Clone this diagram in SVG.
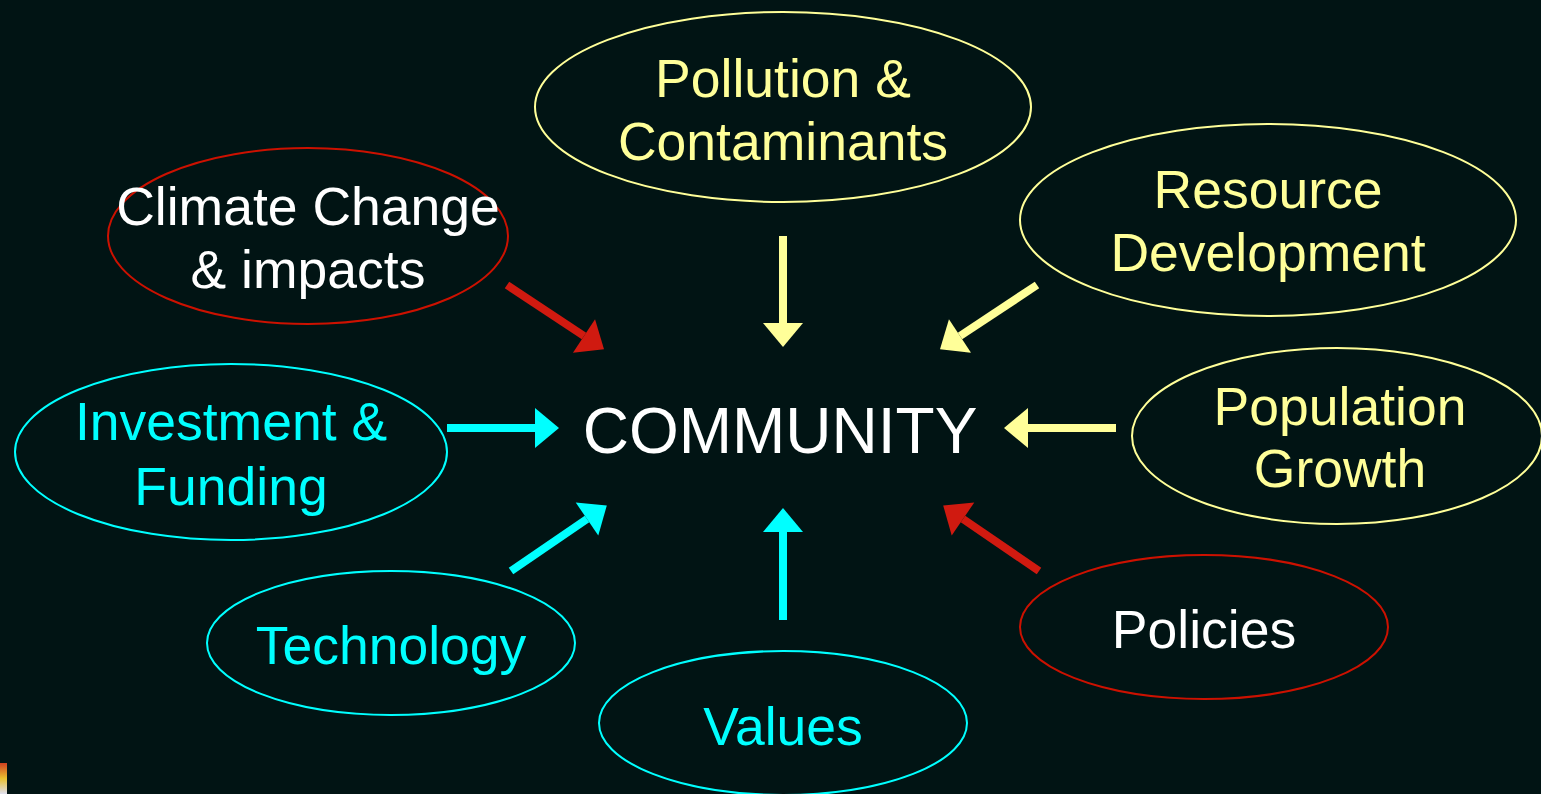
<svg xmlns="http://www.w3.org/2000/svg" width="1541" height="794" viewBox="0 0 1541 794">
<style>
text{font-family:"Liberation Sans",Arial,sans-serif;font-size:53.5px;text-anchor:middle}
.ey{fill:none;stroke:#FFFF99;stroke-width:2}
.er{fill:none;stroke:#CC1100;stroke-width:2}
.ec{fill:none;stroke:#00FFFF;stroke-width:2}
.ty{fill:#FFFF99}.tw{fill:#FFFFFF}.tc{fill:#00FFFF}
.ay{stroke:#FFFF99;stroke-width:8;marker-end:url(#hy)}
.ar{stroke:#D01A10;stroke-width:8;marker-end:url(#hr)}
.ac{stroke:#00FFFF;stroke-width:8;marker-end:url(#hc)}
</style>
<defs>
<marker id="hy" markerUnits="userSpaceOnUse" markerWidth="24" markerHeight="40" refX="0" refY="20" orient="auto" overflow="visible"><path d="M0,0 L24,20 L0,40 z" fill="#FFFF99"/></marker>
<marker id="hr" markerUnits="userSpaceOnUse" markerWidth="24" markerHeight="40" refX="0" refY="20" orient="auto" overflow="visible"><path d="M0,0 L24,20 L0,40 z" fill="#D01A10"/></marker>
<marker id="hc" markerUnits="userSpaceOnUse" markerWidth="24" markerHeight="40" refX="0" refY="20" orient="auto" overflow="visible"><path d="M0,0 L24,20 L0,40 z" fill="#00FFFF"/></marker>
<linearGradient id="clip" x1="0" y1="0" x2="0" y2="1"><stop offset="0" stop-color="#D04020"/><stop offset="0.5" stop-color="#E8C030"/><stop offset="1" stop-color="#E0E0F0"/></linearGradient>
</defs>
<rect width="1541" height="794" fill="#011414"/>
<rect x="0" y="763" width="7" height="31" fill="url(#clip)"/>
<g id="connectors">
<line class="ay" x1="783" y1="236" x2="783" y2="323"/>
<line class="ar" x1="507" y1="285" x2="584" y2="336"/>
<line class="ay" x1="1037" y1="285" x2="960" y2="336"/>
<line class="ac" x1="447" y1="428" x2="535" y2="428"/>
<line class="ay" x1="1116" y1="428" x2="1028" y2="428"/>
<line class="ac" x1="511" y1="571" x2="587" y2="519"/>
<line class="ar" x1="1039" y1="571" x2="963" y2="519"/>
<line class="ac" x1="783" y1="620" x2="783" y2="532"/>
</g>
<g id="community"><text class="tw" x="780" y="453" style="font-size:64px">COMMUNITY</text></g>
<g id="pollution"><ellipse class="ey" cx="783" cy="107" rx="248" ry="95"/><text class="ty" x="783" y="97">Pollution &amp;</text><text class="ty" x="783" y="160">Contaminants</text></g>
<g id="climate"><ellipse class="er" cx="308" cy="236" rx="200" ry="88"/><text class="tw" x="308" y="225">Climate Change</text><text class="tw" x="308" y="288">&amp; impacts</text></g>
<g id="resource"><ellipse class="ey" cx="1268" cy="220" rx="248" ry="96"/><text class="ty" x="1268" y="208">Resource</text><text class="ty" x="1268" y="271">Development</text></g>
<g id="investment"><ellipse class="ec" cx="231" cy="452" rx="216" ry="88"/><text class="tc" x="231" y="440">Investment &amp;</text><text class="tc" x="231" y="505">Funding</text></g>
<g id="population"><ellipse class="ey" cx="1337" cy="436" rx="205" ry="88"/><text class="ty" x="1340" y="425">Population</text><text class="ty" x="1340" y="487">Growth</text></g>
<g id="technology"><ellipse class="ec" cx="391" cy="643" rx="184" ry="72"/><text class="tc" x="391" y="664">Technology</text></g>
<g id="values"><ellipse class="ec" cx="783" cy="723" rx="184" ry="72"/><text class="tc" x="783" y="745">Values</text></g>
<g id="policies"><ellipse class="er" cx="1204" cy="627" rx="184" ry="72"/><text class="tw" x="1204" y="648">Policies</text></g>
</svg>
